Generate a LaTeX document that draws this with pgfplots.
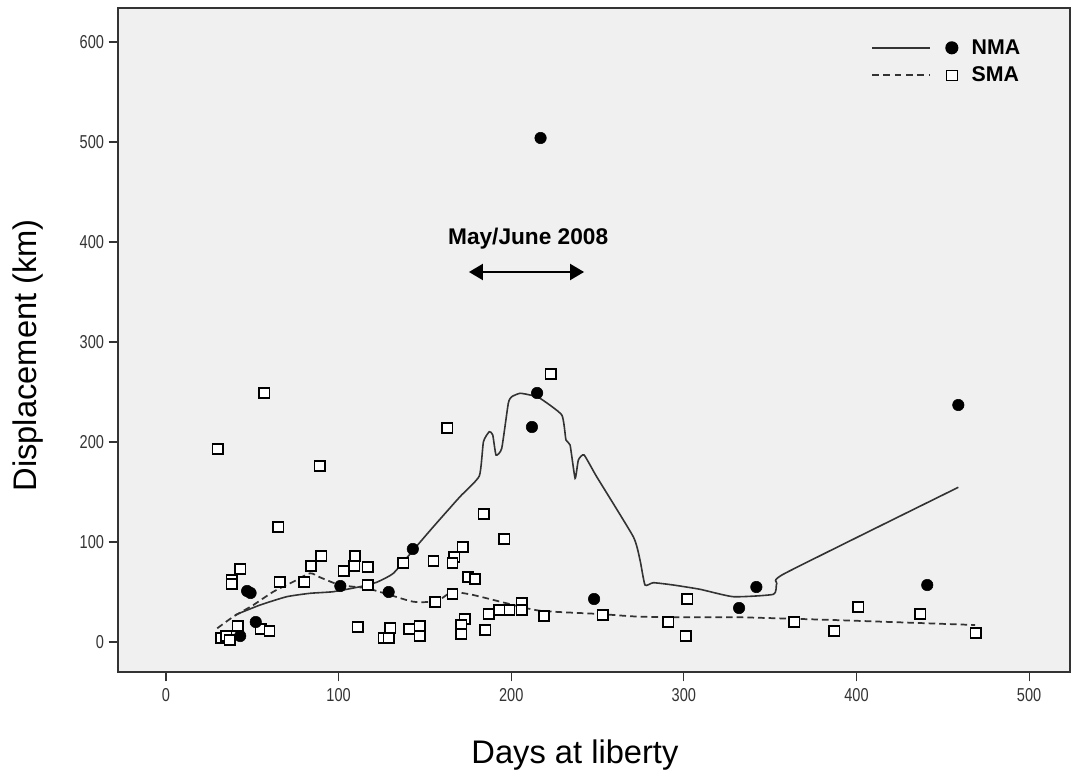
\documentclass[border=0pt]{standalone}
\usepackage{pgfplots}
\pgfplotsset{compat=1.18}
\usepackage{fontspec}
\setmainfont{Liberation Sans}
\newfontfamily\ticklabfont{Liberation Sans}[FakeStretch=0.78]
\usetikzlibrary{arrows.meta}
\definecolor{bg}{HTML}{F0F0F0}
\definecolor{ink}{HTML}{333333}

\pgfplotstableread{
x y
43 6
47 51
49 49
52 20
101 56
129 50
143 93
212 215
215 249
217 504
248 43
332 34
342 55
441 57
459 237
}\nma

\pgfplotstableread{
x y
30 193
57 249
89 176
65 115
163 214
223 268
184 128
196 103
172 95
167 85
166 79
175 65
179 63
166 48
156 40
137.5 79
155 81
117 75
117 57
109.5 86
109 76
103 71
90 86
84 76
80 60
66 60
43 73
38 62
38 58
41.5 16
32 4
35 6
37 2
55 13
60 11
111 15
130 14
126 4
129 4
141 13
147 16
147 6
173 23
171 17
171 8
185 12
187 28
193 32
199 32
206 39
206 32
219 26
253 27
291 20
302 43
301 6
364 20
387 11
401 35
437 28
469 9
}\sma

\begin{document}
\begin{tikzpicture}
\useasboundingbox (-88.5pt,-78pt) rectangle (716.25pt,504pt);
\begin{axis}[
  at={(0,0)}, anchor=south west,
  scale only axis, width=714pt, height=498pt,
  xmin=-27.8, xmax=523.7, ymin=-30, ymax=634,
  axis background/.style={fill=bg},
  axis line style={ink, line width=1pt},
  xtick={0,100,...,500}, ytick={0,100,...,600},
  tick align=outside, xtick pos=lower, ytick pos=left,
  major tick length=7pt, tick style={ink, line width=0.8pt},
  ticklabel style={font=\ticklabfont\fontsize{14}{15}\selectfont, text=ink},
  xticklabel style={yshift=-2pt},
  /pgf/number format/assume math mode=true,
  xlabel={Days at liberty}, ylabel={Displacement (km)},
  label style={font=\fontsize{24.5}{28}\selectfont},
  xlabel style={at={(axis description cs:0.48,-0.1245)}, anchor=center},
  ylabel style={at={(axis description cs:-0.0945,0.477)}, anchor=center, rotate=0},
  legend style={at={(axis description cs:0.791,0.957)}, anchor=north west,
    draw=none, fill=none, inner sep=0pt, row sep=4pt,
    font=\bfseries\fontsize{16}{18}\selectfont,
    nodes={inner sep=2pt},
    /tikz/every odd column/.style={column sep=8pt}},
  legend cell align=left,
]
\addplot[ink, line width=1.2pt, smooth, tension=0.3,
  legend image code/.code={\draw[ink, line width=1.1pt, solid] (0pt,0pt) -- (43.5pt,0pt);
    \fill[black] (59.8pt,0pt) circle (4.3pt);}]
coordinates {(40,27)(54.5,37)(69.9,45.3)(83.4,48.7)(96.9,50.3)(112.4,55.3)(122,59.7)(131.7,68.7)(143.3,92)(154.9,115.3)(170.3,145.3)(181.5,166)(183.9,200.3)(187.3,210.3)(189.3,207)(191.2,187)(194.5,193.7)(198.3,238.7)(200.3,245.3)(205.1,248.7)(210.9,247)(216.7,243.7)(229.3,227)(231.7,202)(234.1,197)(237,163.7)(238.9,182)(242.2,187)(249.5,165.3)(270.7,105.3)(274.6,82)(277.5,57)(282.3,59.3)(293.9,57)(309.4,52.7)(328.7,45.3)(351.9,47.7)(353.8,58.7)(358.6,68.7)(459,154.7)};
\addlegendentry{NMA}
\addplot[ink, line width=1.3pt, dash pattern=on 5pt off 3pt, smooth, tension=0.4,
  legend image code/.code={\draw[ink, line width=1.2pt, dash pattern=on 5pt off 3.5pt] (0pt,0pt) -- (43.5pt,0pt);
    \draw[black, solid, line width=1pt, fill=white] (55.8pt,-3.8pt) rectangle (63.8pt,3.8pt);}]
coordinates {(29.7,13.7)(39,25.3)(50.6,37)(62.2,50.3)(73.8,60.3)(83.4,68.7)(89.2,64.7)(100.8,57)(116.3,53.7)(129.8,47)(143.3,40.3)(154.9,40.3)(160,44)(166,50)(178,47)(197.4,38.7)(216.7,31.3)(251.4,28)(274.6,25.3)(309.4,24.7)(332.6,24.7)(386.6,22)(468.7,17)};
\addlegendentry{SMA}
\addplot[only marks, mark=square*, mark size=3.9pt, mark options={solid, draw=black, fill=white, line width=1.1pt}, forget plot] table[x=x,y=y] {\sma};
\addplot[only marks, mark=*, mark size=4.3pt, mark options={solid, draw=black, fill=black}, forget plot] table[x=x,y=y] {\nma};
\draw[{Triangle[length=10.5pt,width=12pt]}-{Triangle[length=10.5pt,width=12pt]}, line width=1.5pt, black] (axis cs:175.5,370) -- (axis cs:242.2,370);
\node[font=\bfseries\fontsize{17}{20}\selectfont, black] at (axis cs:209.8,403) {May/June 2008};
\end{axis}
\end{tikzpicture}
\end{document}
